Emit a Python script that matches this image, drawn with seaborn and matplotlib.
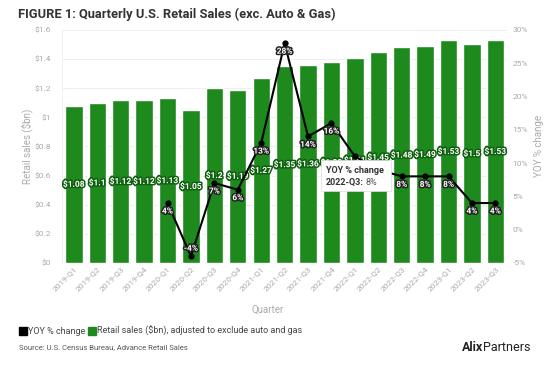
import numpy as np
import pandas as pd
import matplotlib
matplotlib.use('Agg')
import matplotlib.pyplot as plt
import matplotlib.patheffects as pe
from matplotlib.lines import Line2D
from matplotlib.patches import Rectangle
from matplotlib.transforms import IdentityTransform
import seaborn as sns

quarters = ['2019-Q1', '2019-Q2', '2019-Q3', '2019-Q4',
            '2020-Q1', '2020-Q2', '2020-Q3', '2020-Q4',
            '2021-Q1', '2021-Q2', '2021-Q3', '2021-Q4',
            '2022-Q1', '2022-Q2', '2022-Q3', '2022-Q4',
            '2023-Q1', '2023-Q2', '2023-Q3']
sales = [1.08, 1.10, 1.12, 1.12, 1.13, 1.05, 1.20, 1.19, 1.27, 1.35,
         1.36, 1.38, 1.41, 1.45, 1.48, 1.49, 1.53, 1.50, 1.53]
sales_labels = ['$1.08', '$1.1', '$1.12', '$1.12', '$1.13', '$1.05', '$1.2', '$1.19',
                '$1.27', '$1.35', '$1.36', '$1.38', '$1.41', '$1.45', '$1.48', '$1.49',
                '$1.53', '$1.5', '$1.53']
yoy_quarters = quarters[4:]
yoy = [4, -4, 7, 6, 13, 28, 14, 16, 11, 9, 8, 8, 8, 4, 4]

sns.set_style('white')
plt.rcParams['font.family'] = ['Roboto', 'DejaVu Sans']

GREEN = '#1e8a1e'
GREY = '#aaaaaa'

df = pd.DataFrame({'Quarter': quarters, 'Sales': sales})
df['pos'] = np.arange(len(quarters))
yoy_df = pd.DataFrame({'Quarter': yoy_quarters, 'YOY': yoy})
yoy_df['pos'] = [quarters.index(q) for q in yoy_quarters]

fig = plt.figure(figsize=(5.5, 3.73), dpi=100)
ax = fig.add_axes([0.113, 0.295, 0.809, 0.625])
sns.barplot(data=df, x='Quarter', y='Sales', color=GREEN, saturation=1,
            width=0.74, ax=ax, zorder=2)
ax.set_ylim(0, 1.6)
ax.set_xlim(-0.5, len(quarters) - 0.5)
ax.set_yticks(np.arange(0, 1.61, 0.2))
ax.set_yticklabels(['$0', '$0.2', '$0.4', '$0.6', '$0.8', '$1', '$1.2', '$1.4', '$1.6'])
ax.grid(axis='y', color='#ececec', lw=0.6, zorder=0)
ax.set_axisbelow(True)
for s in ['top', 'right', 'bottom']:
    ax.spines[s].set_visible(False)
ax.spines['left'].set_color('#eeeeee')
ax.spines['left'].set_linewidth(0.6)
ax.tick_params(axis='y', colors=GREY, labelsize=6, length=0, pad=8)
ax.tick_params(axis='x', colors=GREY, labelsize=6, length=0, pad=2)
plt.setp(ax.get_xticklabels(), rotation=45, ha='right', rotation_mode='anchor')
ax.set_ylabel('Retail sales ($bn)', color=GREY, fontsize=7, labelpad=1)
ax.set_xlabel('')
fig.text(0.487, 0.169, 'Quarter', color=GREY, fontsize=7, ha='center', va='center')

for p, s, lab in zip(df['pos'], df['Sales'], sales_labels):
    ax.text(p, s / 2, lab, ha='center', va='center', color='white', fontsize=6,
            fontweight='bold', zorder=5,
            path_effects=[pe.withStroke(linewidth=2.2, foreground='#0f5f0f')])

ax2 = ax.twinx()
sns.lineplot(data=yoy_df, x='pos', y='YOY', color='black', lw=1.5, marker='o',
             markersize=4.5, markeredgewidth=0, ax=ax2, zorder=4)
ax2.set_ylim(-5, 30)
ax2.set_yticks(np.arange(-5, 31, 5))
ax2.set_yticklabels([f'{v}%' for v in range(-5, 31, 5)])
ax2.tick_params(axis='y', colors=GREY, labelsize=6, length=0, pad=4)
ax2.set_ylabel('YOY % change', color=GREY, fontsize=7, labelpad=4)
ax2.set_xlabel('')
for s in ax2.spines.values():
    s.set_visible(False)
ax2.grid(False)

hidden = {'2022-Q1', '2022-Q2'}
for q, p, v in zip(yoy_df['Quarter'], yoy_df['pos'], yoy_df['YOY']):
    if q in hidden:
        continue
    dy = 8 if v < 0 else -8
    ax2.annotate(f'{v}%', (p, v), xytext=(0, dy), textcoords='offset pixels',
                 ha='center', va='center', color='white', fontsize=6, fontweight='bold',
                 zorder=6, path_effects=[pe.withStroke(linewidth=2.2, foreground='#222222')])

# tooltip box at the 2022-Q3 point
fig.canvas.draw()
tip_pos = quarters.index('2022-Q3')
tip_y = yoy[yoy_quarters.index('2022-Q3')]
px, py = ax2.transData.transform((tip_pos, tip_y))
box = Rectangle((px - 81, py - 15), 70, 31, transform=IdentityTransform(),
                facecolor='white', edgecolor='#dddddd', lw=0.5, zorder=10, clip_on=False)
ax2.add_artist(box)
ax2.annotate('YOY % change', (tip_pos, tip_y), xytext=(-76, 6),
             textcoords='offset pixels', ha='left', va='center', fontsize=6.5,
             fontweight='bold', color='#333333', zorder=11)
lab2 = ax2.annotate('2022-Q3:', (tip_pos, tip_y), xytext=(-76, -6),
                    textcoords='offset pixels', ha='left', va='center', fontsize=6.5,
                    fontweight='bold', color='#333333', zorder=11)
fig.canvas.draw()
w2 = lab2.get_window_extent().width
ax2.annotate('8%', (tip_pos, tip_y), xytext=(-76 + w2 + 2, -6),
             textcoords='offset pixels', ha='left', va='center', fontsize=6.5,
             color='#555555', zorder=11)

fig.text(0.033, 0.962, 'FIGURE 1: Quarterly U.S. Retail Sales (exc. Auto & Gas)',
         fontsize=9.3, fontweight='bold', color='#333333', va='center')

handles = [Line2D([0], [0], marker='s', color='none', markerfacecolor='black',
                  markeredgecolor='black', markersize=6),
           Line2D([0], [0], marker='s', color='none', markerfacecolor=GREEN,
                  markeredgecolor=GREEN, markersize=6)]
fig.legend(handles, ['YOY % change', 'Retail sales ($bn), adjusted to exclude auto and gas'],
           loc='center left', bbox_to_anchor=(0.022, 0.112), ncol=2, frameon=False,
           fontsize=6.5, handlelength=0.6, handletextpad=0.3, columnspacing=0.4,
           labelcolor='#444444')
fig.text(0.035, 0.07, 'Source: U.S. Census Bureau, Advance Retail Sales',
         fontsize=5.5, color='#555555', va='center')

# logo-like wordmark
alix = fig.text(0.84, 0.069, 'Alix', fontsize=9, fontweight='bold', color='#222222',
                va='center', ha='left')
fig.canvas.draw()
bb = alix.get_window_extent().transformed(fig.transFigure.inverted())
fig.text(bb.x1, 0.069, 'Partners', fontsize=9, color='#222222', va='center', ha='left')

fig.savefig('out.png', dpi=100, facecolor='white')
